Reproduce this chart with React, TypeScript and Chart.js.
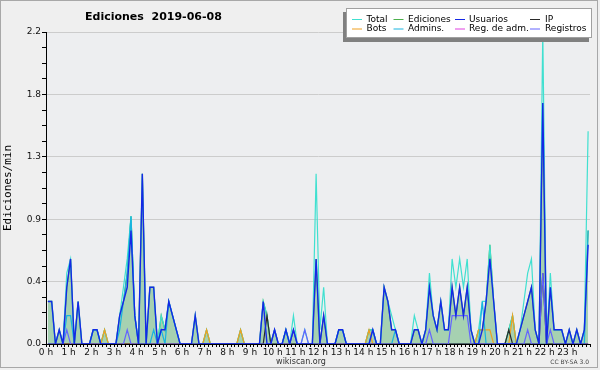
import React, { useEffect, useRef } from 'react';
import { Chart, registerables } from 'chart.js';

Chart.register(...registerables);

// Hour labels of the x axis (one per hour); slots are 10-minute bins, 6 per hour.
const hourLabels = ['0 h','1 h','2 h','3 h','4 h','5 h','6 h','7 h','8 h','9 h','10 h','11 h','12 h','13 h','14 h','15 h','16 h','17 h','18 h','19 h','20 h','21 h','22 h','23 h'];

// Y axis ticks (labelled every 4th)
const yTickValues = [0, 0.11, 0.22, 0.33, 0.44, 0.55, 0.66, 0.77, 0.88, 0.99, 1.1, 1.21, 1.32, 1.43, 1.54, 1.65, 1.76, 1.87, 1.98, 2.09, 2.2];

// Series values, edits/min per 10-minute bin (rows = hours)
const total = [
  0.3,0.3,0,0.1,0,0.5,
  0.6,0,0.3,0,0,0,
  0.1,0.1,0,0.1,0,0,
  0,0.2,0.4,0.6,0.9,0.2,
  0,1.2,0,0.4,0.4,0,
  0.2,0.1,0.3,0.2,0.1,0,
  0,0,0,0.2,0,0,
  0.1,0,0,0,0,0,
  0,0,0,0.1,0,0,
  0,0,0,0.3,0.2,0,
  0.1,0,0,0.1,0,0.2,
  0,0,0.1,0,0,1.2,
  0.1,0.4,0,0,0,0.1,
  0.1,0,0,0,0,0,
  0,0.1,0.1,0,0,0.4,
  0.3,0.2,0.1,0,0,0,
  0,0.2,0.1,0,0.1,0.5,
  0.2,0.1,0.3,0.1,0.1,0.6,
  0.4,0.6,0.4,0.6,0.1,0,
  0.1,0.3,0.3,0.7,0.3,0,
  0,0,0.1,0.2,0,0.1,
  0.3,0.5,0.6,0.1,0,2.2,
  0,0.5,0.1,0.1,0.1,0,
  0.1,0,0.1,0,0.1,1.5,
];

const ediciones = [
  0.3,0.3,0,0.1,0,0.4,
  0.6,0,0.3,0,0,0,
  0.1,0.1,0,0.1,0,0,
  0,0.2,0.3,0.5,0.9,0.2,
  0,1.2,0,0.4,0.4,0,
  0.2,0.1,0.3,0.2,0.1,0,
  0,0,0,0.2,0,0,
  0.1,0,0,0,0,0,
  0,0,0,0.1,0,0,
  0,0,0,0.3,0.2,0,
  0.1,0,0,0.1,0,0.1,
  0,0,0,0,0,0.6,
  0,0.2,0,0,0,0.1,
  0.1,0,0,0,0,0,
  0,0.1,0.1,0,0,0.4,
  0.3,0.1,0.1,0,0,0,
  0,0.1,0.1,0,0.1,0.4,
  0.2,0.1,0.3,0.1,0.1,0.4,
  0.2,0.4,0.2,0.4,0.1,0,
  0.1,0.1,0.3,0.7,0.3,0,
  0,0,0.1,0.2,0,0.1,
  0.2,0.3,0.4,0.1,0,1.7,
  0,0.4,0.1,0.1,0.1,0,
  0.1,0,0.1,0,0.1,0.8,
];

const usuarios = [
  0.3,0.3,0,0.1,0,0.4,
  0.6,0,0.3,0,0,0,
  0.1,0.1,0,0,0,0,
  0,0.2,0.3,0.4,0.8,0.2,
  0,1.2,0,0.4,0.4,0,
  0.1,0.1,0.3,0.2,0.1,0,
  0,0,0,0.2,0,0,
  0,0,0,0,0,0,
  0,0,0,0,0,0,
  0,0,0,0.3,0,0,
  0.1,0,0,0.1,0,0.1,
  0,0,0,0,0,0.6,
  0,0.2,0,0,0,0.1,
  0.1,0,0,0,0,0,
  0,0,0.1,0,0,0.4,
  0.3,0.1,0.1,0,0,0,
  0,0.1,0.1,0,0.1,0.4,
  0.2,0.1,0.3,0.1,0.1,0.4,
  0.2,0.4,0.2,0.4,0.1,0,
  0,0.1,0.3,0.6,0.3,0,
  0,0,0,0,0,0.1,
  0.2,0.3,0.4,0.1,0,1.7,
  0,0.4,0.1,0.1,0.1,0,
  0.1,0,0.1,0,0.1,0.7,
];

const ip = [
  0,0,0,0,0,0,
  0,0,0,0,0,0,
  0,0,0,0,0,0,
  0,0,0,0,0,0,
  0,0,0,0,0,0,
  0,0,0,0,0,0,
  0,0,0,0,0,0,
  0,0,0,0,0,0,
  0,0,0,0,0,0,
  0,0,0,0,0.2,0,
  0,0,0,0,0,0,
  0,0,0,0,0,0,
  0,0,0,0,0,0,
  0,0,0,0,0,0,
  0,0,0,0,0,0,
  0,0,0,0,0,0,
  0,0,0,0,0,0,
  0,0,0,0,0,0,
  0,0,0,0,0,0,
  0,0,0,0,0,0,
  0,0,0.1,0,0,0,
  0,0,0,0,0,0.5,
  0,0,0,0,0,0,
  0,0,0,0,0,0,
];

const bots = [
  0,0,0,0,0,0,
  0,0,0,0,0,0,
  0,0,0,0.1,0,0,
  0,0,0,0,0,0,
  0,0,0,0,0,0,
  0,0,0,0,0,0,
  0,0,0,0,0,0,
  0.1,0,0,0,0,0,
  0,0,0,0.1,0,0,
  0,0,0,0,0,0,
  0,0,0,0,0,0,
  0,0,0,0,0,0,
  0,0,0,0,0,0,
  0,0,0,0,0,0,
  0,0.1,0,0,0,0,
  0,0,0,0,0,0,
  0,0,0,0,0,0,
  0,0,0,0,0,0,
  0,0,0,0,0,0,
  0.1,0.1,0.1,0.1,0,0,
  0,0,0,0.2,0,0,
  0,0,0,0,0,0,
  0,0,0,0,0,0,
  0,0,0,0,0,0,
];

const admins = [
  0,0,0,0,0,0.2,
  0.2,0,0,0,0,0,
  0.1,0.1,0,0,0,0,
  0,0.1,0.3,0.5,0.9,0.2,
  0,0,0,0,0.1,0,
  0.1,0,0.3,0.2,0.1,0,
  0,0,0,0,0,0,
  0,0,0,0,0,0,
  0,0,0,0,0,0,
  0,0,0,0,0,0,
  0,0,0,0.1,0,0,
  0,0,0,0,0,0,
  0,0,0,0,0,0.1,
  0.1,0,0,0,0,0,
  0,0,0.1,0,0,0,
  0,0,0.1,0,0,0,
  0,0,0,0,0,0,
  0,0,0,0,0,0,
  0,0,0,0,0,0,
  0,0.3,0,0,0,0,
  0,0,0,0,0,0,
  0,0,0,0,0,0,
  0,0,0,0,0,0,
  0,0,0,0,0,0.8,
];

const regAdm = [
  0,0,0,0,0,0,
  0,0,0,0,0,0,
  0,0,0,0,0,0,
  0,0,0,0,0,0,
  0,0,0,0,0,0,
  0,0,0,0,0,0,
  0,0,0,0,0,0,
  0,0,0,0,0,0,
  0,0,0,0,0,0,
  0,0,0,0,0,0,
  0,0,0,0,0,0,
  0,0,0,0,0,0,
  0,0,0,0,0,0,
  0,0,0,0,0,0,
  0,0,0,0,0,0,
  0,0,0,0,0,0,
  0,0,0,0,0,0,
  0,0,0,0,0,0,
  0,0,0,0,0,0,
  0,0,0,0,0,0,
  0,0,0,0,0,0,
  0,0,0,0,0,0,
  0,0,0,0,0,0,
  0,0,0,0,0,0,
];

const registros = [
  0,0,0,0,0,0.1,
  0,0,0,0,0,0,
  0,0,0,0,0,0,
  0,0,0,0.1,0,0,
  0,0,0,0,0,0,
  0,0,0,0,0,0,
  0,0,0,0,0,0,
  0,0,0,0,0,0,
  0,0,0,0,0,0,
  0,0,0,0,0,0,
  0.1,0,0,0,0,0.1,
  0,0,0.1,0,0,0,
  0,0,0,0,0,0,
  0,0,0,0,0,0,
  0,0,0,0,0,0,
  0,0,0,0,0,0,
  0,0,0,0,0,0.1,
  0,0,0,0,0,0.2,
  0.2,0.2,0.2,0.2,0,0,
  0,0,0,0,0,0,
  0,0,0,0,0,0,
  0,0.1,0,0,0,0.5,
  0,0.1,0,0,0,0,
  0,0,0,0,0,0,
];

const COLORS = {
  total: '#40e0d0',
  ediciones: '#4cb04c',
  edicionesFill: 'rgba(70,170,90,0.42)',
  usuarios: '#1428e6',
  ip: '#2a2a2a',
  bots: '#f0a020',
  admins: '#18b4e0',
  regAdm: '#e040e0',
  registros: '#6464ff',
};

const legendItems = [
  { label: 'Total', color: COLORS.total, col: 0, row: 0 },
  { label: 'Ediciones', color: COLORS.ediciones, col: 1, row: 0 },
  { label: 'Usuarios', color: COLORS.usuarios, col: 2, row: 0 },
  { label: 'IP', color: COLORS.ip, col: 3, row: 0 },
  { label: 'Bots', color: COLORS.bots, col: 0, row: 1 },
  { label: 'Admins.', color: COLORS.admins, col: 1, row: 1 },
  { label: 'Reg. de adm.', color: COLORS.regAdm, col: 2, row: 1 },
  { label: 'Registros', color: COLORS.registros, col: 3, row: 1 },
];

const FONT = 'DejaVu Sans';

const decor = {
  id: 'decor',
  beforeDraw(chart: any) {
    const { ctx, chartArea: a } = chart;
    ctx.save();
    ctx.fillStyle = '#efefef';
    ctx.fillRect(0, 0, chart.width, chart.height);
    ctx.fillStyle = '#edeef0';
    ctx.fillRect(a.left, a.top, a.right - a.left, a.bottom - a.top);
    ctx.restore();
  },
  afterDraw(chart: any) {
    const { ctx } = chart;
    ctx.save();
    // title
    ctx.fillStyle = '#000';
    ctx.font = `bold 11px "${FONT}"`;
    ctx.textAlign = 'left';
    ctx.textBaseline = 'middle';
    ctx.fillText('Ediciones  2019-06-08', 85, 17.5);

    // legend box with shadow
    ctx.fillStyle = '#808080';
    ctx.fillRect(343, 12, 246, 30);
    ctx.fillStyle = '#ffffff';
    ctx.fillRect(347, 9, 245, 28);
    ctx.strokeStyle = '#a0a0a0';
    ctx.lineWidth = 1;
    ctx.strokeRect(346.5, 8.5, 245, 29);
    const colLine = [352, 393.5, 455, 530];
    const colText = [366.5, 408, 469, 545];
    const rowY = [19.5, 29];
    ctx.font = `9px "${FONT}"`;
    ctx.textBaseline = 'middle';
    legendItems.forEach((it) => {
      const y = rowY[it.row];
      ctx.strokeStyle = it.color;
      ctx.lineWidth = 1;
      ctx.beginPath();
      ctx.moveTo(colLine[it.col], y);
      ctx.lineTo(colLine[it.col] + 10, y);
      ctx.stroke();
      ctx.fillStyle = '#000';
      ctx.fillText(it.label, colText[it.col], y);
    });

    // footer texts
    ctx.fillStyle = '#333';
    ctx.font = `8px "${FONT}"`;
    ctx.textAlign = 'center';
    ctx.fillText('wikiscan.org', 301, 361.5);
    ctx.font = `6px "${FONT}"`;
    ctx.textAlign = 'right';
    ctx.fillStyle = '#444';
    ctx.fillText('CC BY-SA 3.0', 589, 362);

    // outer frame
    ctx.strokeStyle = '#a8a8a8';
    ctx.lineWidth = 1;
    ctx.strokeRect(0.5, 0.5, 597, 367);
    ctx.restore();
  },
};

export default function App() {
  const ref = useRef<HTMLCanvasElement>(null);
  useEffect(() => {
    const canvas = ref.current;
    if (!canvas) return;
    const pts = (vals: number[]) => vals.map((y, i) => ({ x: (i + 0.5) / 6, y }));
    const ds = (label: string, vals: number[], color: string, order: number, extra: any = {}) => ({
      label,
      data: pts(vals),
      borderColor: color,
      backgroundColor: color,
      borderWidth: 1.2,
      pointRadius: 0,
      tension: 0,
      fill: false,
      order,
      ...extra,
    });
    const chart = new Chart(canvas, {
      type: 'line',
      data: {
        datasets: [
          ds('Usuarios', usuarios, COLORS.usuarios, 1, { borderWidth: 1.4 }),
          ds('Registros', registros, COLORS.registros, 2),
          ds('IP', ip, COLORS.ip, 3),
          ds('Admins.', admins, COLORS.admins, 4),
          ds('Bots', bots, COLORS.bots, 5),
          ds('Reg. de adm.', regAdm, COLORS.regAdm, 6),
          ds('Total', total, COLORS.total, 7),
          ds('Ediciones', ediciones, COLORS.ediciones, 8, { fill: 'origin', backgroundColor: COLORS.edicionesFill }),
        ] as any,
      },
      options: {
        responsive: false,
        animation: false,
        devicePixelRatio: 1,
        layout: { padding: { left: 0, right: 10, top: 32, bottom: 0 } },
        plugins: {
          legend: { display: false },
          title: { display: false },
          tooltip: { enabled: false },
        },
        scales: {
          x: {
            type: 'linear',
            min: 0,
            max: 24,
            afterBuildTicks: (s: any) => {
              const t: any[] = [];
              for (let i = 0; i <= 144; i++) t.push({ value: i / 6 });
              s.ticks = t;
            },
            afterFit: (s: any) => { s.height = 26; },
            ticks: {
              autoSkip: false,
              maxRotation: 0,
              minRotation: 0,
              padding: 0,
              color: '#111',
              font: { family: FONT, size: 9 },
              callback: (_v: any, i: number) => (i % 6 === 0 && i < 144 ? hourLabels[i / 6] : ''),
            },
            grid: { drawOnChartArea: false, drawTicks: true, tickLength: 3, tickColor: '#000', color: '#000' },
            border: { display: true, color: '#000', width: 1 },
          },
          y: {
            min: 0,
            max: 2.2,
            afterBuildTicks: (s: any) => { s.ticks = yTickValues.map((v) => ({ value: v })); },
            afterFit: (s: any) => { s.width = 46; },
            ticks: {
              autoSkip: false,
              padding: 1,
              color: '#111',
              font: { family: FONT, size: 9 },
              callback: (v: any, i: number) => (i % 4 === 0 ? Number(v).toFixed(1) : ''),
            },
            grid: {
              color: (c: any) => (c.index % 4 === 0 && c.index > 0 ? '#cccccc' : 'rgba(0,0,0,0)'),
              tickColor: '#000',
              tickLength: 4,
            },
            border: { display: true, color: '#000', width: 1 },
            title: {
              display: true,
              text: 'Ediciones/min',
              color: '#000',
              font: { family: 'DejaVu Sans Mono', size: 11 },
              padding: { top: 2, bottom: 0 },
            },
          },
        },
      } as any,
      plugins: [decor],
    });
    return () => chart.destroy();
  }, []);
  return (
    <div style={{ position: 'fixed', left: 0, top: 0, width: 600, height: 370, background: '#efefef' }}>
      <canvas ref={ref} width={600} height={370} style={{ display: 'block' }} />
    </div>
  );
}
